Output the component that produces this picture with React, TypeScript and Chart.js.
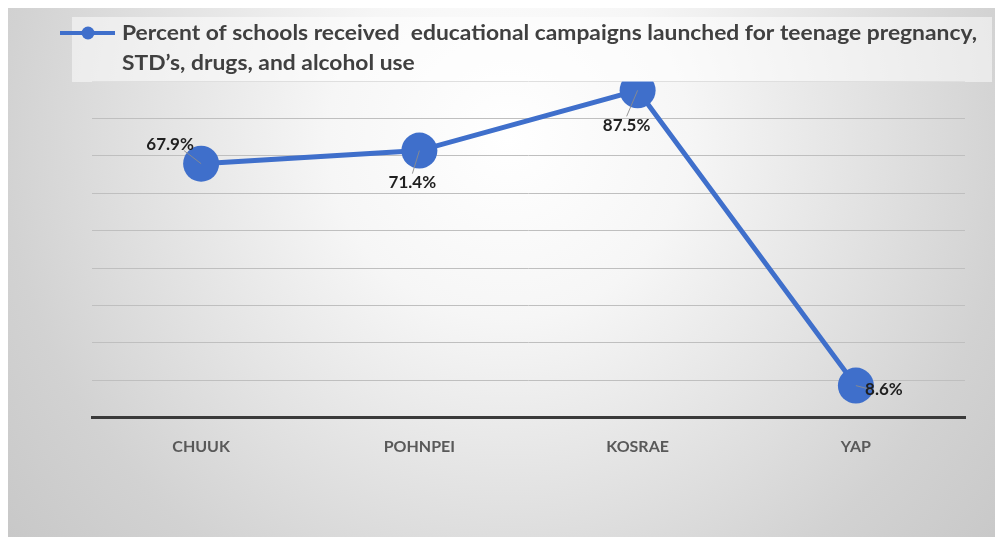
import React, { useEffect, useRef } from 'react';
import { Chart, registerables } from 'chart.js';

Chart.register(...registerables);

const categories = ['CHUUK', 'POHNPEI', 'KOSRAE', 'YAP'];
const percentValues = [67.9, 71.4, 87.5, 8.6];
const valueLabels = ['67.9%', '71.4%', '87.5%', '8.6%'];
const seriesNameLines = [
  'Percent of schools received  educational campaigns launched for teenage pregnancy,',
  'STD\u2019s, drugs, and alcohol use',
];
const yMin = 0;
const yMax = 90;
const yStep = 10;

// label placement relative to each point (style only)
const labelOffsets = [
  [-31, -19],
  [-7, 32],
  [-11, 35],
  [28, 4],
];

const BLUE = '#3F6FCB';

const bgPlugin = {
  id: 'bgPlugin',
  beforeDraw(chart: any) {
    const { ctx, width, height } = chart;
    ctx.save();
    const g = ctx.createRadialGradient(500, 130, 0, 500, 130, 720);
    g.addColorStop(0, '#ffffff');
    g.addColorStop(0.25, '#f6f6f6');
    g.addColorStop(0.7, '#d2d2d2');
    g.addColorStop(1, '#c2c2c2');
    ctx.fillStyle = g;
    ctx.fillRect(0, 0, width, height);
    ctx.restore();
  },
};

function stretchedText(ctx: any, text: string, x: number, y: number, sx: number) {
  ctx.save();
  ctx.translate(x, y);
  ctx.scale(sx, 1);
  ctx.fillText(text, 0, 0);
  ctx.restore();
}

const overlayPlugin = {
  id: 'overlayPlugin',
  afterDatasetsDraw(chart: any) {
    const { ctx } = chart;
    const meta = chart.getDatasetMeta(0);
    ctx.save();
    // data labels with leader lines
    ctx.font = 'bold 17px Lato';
    ctx.textAlign = 'center';
    ctx.textBaseline = 'middle';
    meta.data.forEach((pt: any, i: number) => {
      const [dx, dy] = labelOffsets[i];
      const lx = pt.x + dx;
      const ly = pt.y + dy;
      ctx.strokeStyle = 'rgba(140,140,140,0.9)';
      ctx.lineWidth = 1;
      ctx.beginPath();
      const tx = lx + (dx > 0 ? -dx * 0.45 : dx < -20 ? 14 : 0);
      const ty = ly + (dy > 20 ? -9 : dy < -10 ? 6 : 0);
      ctx.moveTo(tx, ty);
      ctx.lineTo(pt.x, pt.y);
      ctx.stroke();
      ctx.fillStyle = '#1f1f1f';
      ctx.fillText(valueLabels[i], lx, ly);
    });
    // legend box
    ctx.fillStyle = 'rgba(255,255,255,0.5)';
    ctx.fillRect(64, 9, 920, 65);
    // legend marker
    ctx.strokeStyle = BLUE;
    ctx.lineWidth = 4;
    ctx.beginPath();
    ctx.moveTo(52, 25);
    ctx.lineTo(107, 25);
    ctx.stroke();
    ctx.fillStyle = BLUE;
    ctx.beginPath();
    ctx.arc(80, 25, 6.5, 0, Math.PI * 2);
    ctx.fill();
    // legend text
    ctx.fillStyle = '#404040';
    ctx.font = 'bold 21px Lato';
    ctx.textAlign = 'left';
    ctx.textBaseline = 'middle';
    const w = ctx.measureText(seriesNameLines[0]).width;
    const sx = 855 / w;
    stretchedText(ctx, seriesNameLines[0], 114, 25, sx);
    stretchedText(ctx, seriesNameLines[1], 114, 55, sx);
    ctx.restore();
  },
};

export default function App() {
  const ref = useRef<HTMLCanvasElement | null>(null);
  useEffect(() => {
    if (!ref.current) return;
    const chart = new Chart(ref.current, {
      type: 'line',
      data: {
        labels: categories,
        datasets: [
          {
            label: seriesNameLines.join(' '),
            data: percentValues,
            borderColor: BLUE,
            backgroundColor: BLUE,
            borderWidth: 5,
            pointRadius: 18,
            pointHoverRadius: 18,
            pointBackgroundColor: BLUE,
            pointBorderColor: BLUE,
            pointBorderWidth: 0,
            tension: 0,
          },
        ],
      },
      options: {
        animation: false,
        responsive: false,
        maintainAspectRatio: false,
        layout: { padding: { left: 84, right: 38, top: 73, bottom: 62 } },
        plugins: {
          legend: { display: false },
          tooltip: { enabled: false },
        },
        scales: {
          x: {
            offset: true,
            grid: { display: false, drawTicks: false },
            border: { display: true, color: '#3a3a3a', width: 3 },
            ticks: {
              color: '#595959',
              font: { family: 'Lato', size: 16, weight: 'bold' },
              padding: 19,
            },
          },
          y: {
            min: yMin,
            max: yMax,
            ticks: { display: false, stepSize: yStep },
            grid: { color: '#bfbfbf', lineWidth: 1, drawTicks: false },
            border: { display: false },
          },
        },
      },
      plugins: [bgPlugin, overlayPlugin],
    });
    return () => chart.destroy();
  }, []);
  return (
    <div style={{ width: 995, height: 529 }}>
      <canvas ref={ref} width={995} height={529} style={{ display: 'block' }} />
    </div>
  );
}
